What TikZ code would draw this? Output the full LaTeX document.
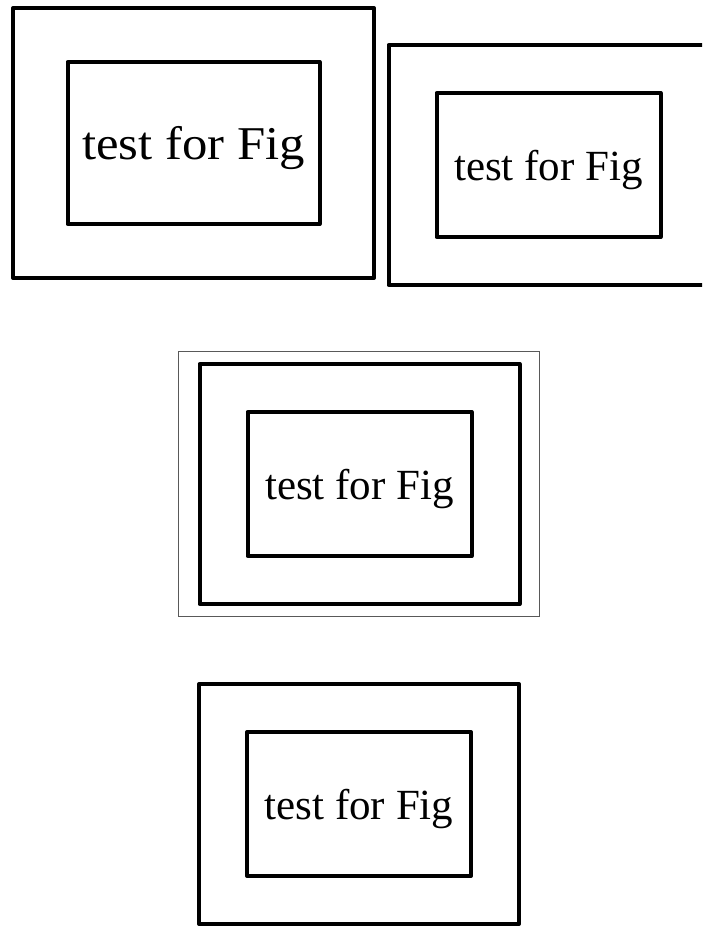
\documentclass[tikz,border=0pt]{standalone}
\usepackage{fontspec}
\setmainfont{Liberation Serif}

\begin{document}
\begin{tikzpicture}[x=1pt, y=-1pt]
        % Setup the styles for the boxes
        \tikzset{box style/.style={draw,
                                   line width=4pt,
                                   line join=round,
                                   inner sep=0pt},
                 outer box/.style={box style,
                                   minimum width=320pt,
                                   minimum height=240pt},
                 inner box/.style={box style,
                                   minimum width=224pt,
                                   minimum height=144pt,
                                   text depth=0pt,
                                   font=\fontsize{43}{48}\selectfont},
                 frame style/.style={draw=black!65,
                                     line width=1pt,
                                     minimum width=361pt,
                                     minimum height=265pt}}

        \useasboundingbox (0, 0) rectangle (702, 927);
        \clip (0, 0) rectangle (702, 927);

        % Draw the outer boxes
        \node[box style, minimum width=361pt, minimum height=270pt]
              at (193.5, 143)  (outerA) {};
        \node[outer box] at (548.5, 165) (outerB) {};
        \node[frame style] at (358.6, 484) (frameC) {};
        \node[outer box] at (359.5, 484) (outerC) {};
        \node[outer box] at (359, 804)   (outerD) {};

        % Draw the inner boxes with their text
        \node[inner box, minimum width=252pt, minimum height=162pt,
              font=\fontsize{47}{52}\selectfont]
              at (outerA.center) (innerA) {\scalebox{1.08}[1]{test for Fig}};
        \node[inner box] at (outerB.center) (innerB) {test for Fig};
        \node[inner box] at (outerC.center) (innerC) {test for Fig};
        \node[inner box] at (outerD.center) (innerD) {test for Fig};
\end{tikzpicture}
\end{document}
